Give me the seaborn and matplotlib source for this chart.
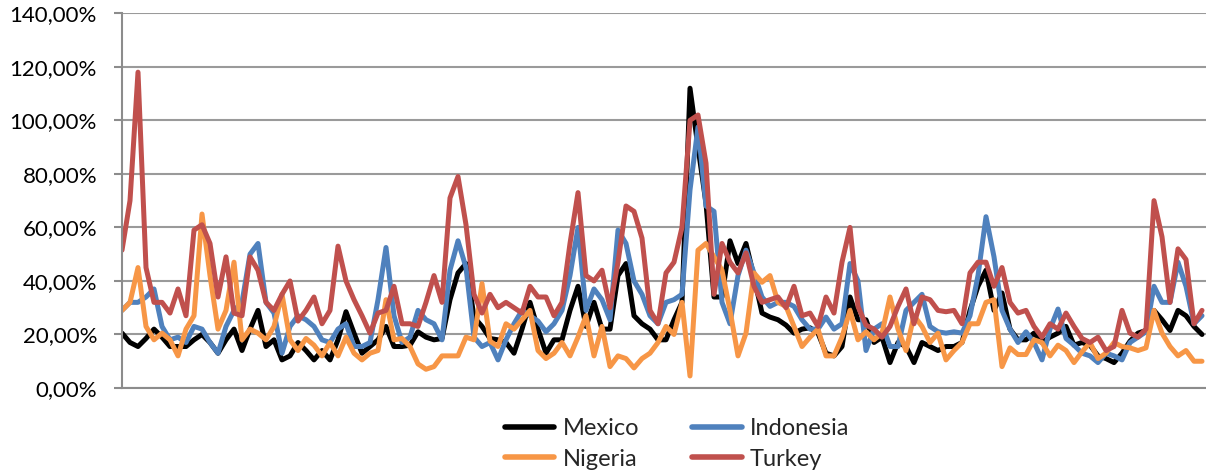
import numpy as np
import pandas as pd
import seaborn as sns
import matplotlib.pyplot as plt
from matplotlib.lines import Line2D
from matplotlib.ticker import FuncFormatter

countries = ["Mexico", "Indonesia", "Nigeria", "Turkey"]
colors = ["#000000", "#4F81BD", "#F79646", "#C0504D"]

mexico = [20.5, 17, 15.5, 18.5, 22, 19, 15.5, 15.5, 15.5, 18, 20, 17, 13, 18, 22, 14, 22, 29, 15.5, 18, 10.5, 12, 17,
          14, 10.5, 14, 10.5, 18, 28.5, 20.5, 13, 15.5, 18, 23, 15.5, 15.5, 16, 21, 19, 18, 18.5, 33, 43, 46.5, 26.5, 23,
          18.5, 18, 17, 13, 22, 32, 22, 13, 18, 18, 29, 38, 23, 32, 22, 22, 42, 46.5, 27, 24, 22, 18,
          18, 25.5, 32, 112, 90, 69, 34, 34, 55, 46.5, 54, 41.5, 28, 26.5, 25.5, 23.5, 20.5, 22, 22.5, 20.5, 13, 12, 15.5,
          34, 25.5, 25.5, 17, 19, 9.5, 17, 15.5, 9.5, 17, 15.5, 14, 15.5, 15.5, 17, 29, 38, 44, 29, 35.5, 22, 18,
          18, 20.5, 17, 19, 20.5, 23, 16, 17, 16, 12, 11, 9.5, 13, 17.5, 20.5, 21.5, 29, 25.5, 21.5, 29, 27, 23, 20]

indonesia = [29, 32, 32, 34, 37, 23, 18, 19, 17, 23, 22, 17, 13, 23, 29, 32, 50, 54, 32, 28, 13, 23, 27,
             25.5, 23, 18, 17, 22, 24, 15.5, 15.5, 17, 33, 52.5, 27, 17, 19, 29, 25.5, 24, 18, 44, 55, 45, 19, 15.5,
             17, 10.5, 18, 24, 29, 27, 25, 21, 24, 29, 42, 60, 29, 37, 33, 25.5, 59, 54, 40, 35, 27, 24,
             32, 33, 35, 74, 97.5, 68, 66, 32, 24, 42, 51.5, 43, 34, 30.5, 32, 32, 30.5, 25.5, 22, 22, 26.5, 22, 24,
             46.5, 40, 14, 22, 24, 15.5, 15.5, 29, 32, 35, 23, 21, 20.5, 21, 20.5, 27, 42, 64, 49, 29, 22, 17,
             21, 17, 10.5, 22, 29.5, 18.5, 16, 13, 12, 9.5, 13, 12, 10.5, 17, 19, 21, 38, 32, 32, 47, 38, 24, 27]

nigeria = [29, 32, 45, 23, 18, 20.5, 18, 12, 22, 27, 65, 42, 22, 29, 47, 18, 22, 20.5, 18, 23, 35, 18, 14,
           18.5, 16, 12, 17, 12, 19, 13, 10.5, 13, 14, 33, 18, 18.5, 15.5, 9, 7, 8, 12, 12, 12, 19, 18, 39,
           17.5, 15.5, 24, 22, 25.5, 29, 14, 11, 13, 17, 12, 19, 27, 12, 23, 8, 12, 11, 7.5, 11, 13, 17,
           23, 20, 32, 4.5, 51.5, 54, 49, 44, 29, 12, 20.5, 43, 39.5, 42, 32, 30.5, 23, 15.5, 19, 22, 12, 12, 19,
           29, 18, 21, 18, 20.5, 34, 22, 14, 27, 23, 17, 20.5, 10.5, 14, 17, 24, 24, 32, 33, 8, 15, 12.5,
           12.5, 18, 17, 12, 16, 14, 9.5, 13.5, 17, 11, 13, 17, 15.5, 15, 14, 15, 29, 20.5, 15.5, 12, 14, 10, 10]

turkey = [51.5, 70, 118, 45, 32, 32, 28, 37, 27, 59, 61, 54, 34, 49, 28, 27, 49, 44, 32, 29, 35, 40, 25,
          29, 34, 24, 29, 53, 40, 33, 27, 20.5, 28, 29, 38, 24, 24, 23, 32, 42, 32, 71, 79, 61, 35, 28,
          35, 30, 32, 30, 28, 38, 34, 34, 27, 32, 54, 73, 42, 40, 44, 30, 47, 68, 66, 56, 29, 24,
          43, 47, 60, 100, 102, 84, 35, 54, 47, 43, 50.5, 38, 32, 33, 34, 30, 38, 27, 28, 23, 34, 28, 47,
          60, 30.5, 23.5, 22, 19, 23, 30.5, 37, 24, 34, 33, 29, 28.5, 29, 24, 43, 47, 47, 38, 45, 32, 28,
          29, 23, 19, 24, 22, 28, 23, 18.5, 17, 19, 14, 15.5, 29, 20.5, 19, 22, 70, 56.5, 32, 52, 48, 24, 29]

y_ticks = [0, 20, 40, 60, 80, 100, 120, 140]

series = {"Mexico": mexico, "Indonesia": indonesia, "Nigeria": nigeria, "Turkey": turkey}
n = min(len(v) for v in series.values())
frames = []
for name, vals in series.items():
    frames.append(pd.DataFrame({"t": np.arange(n), "value": np.asarray(vals[:n], dtype=float), "country": name}))
df = pd.concat(frames, ignore_index=True)

sns.set_theme(style="white")
plt.rcParams['font.family'] = ['Lato', 'DejaVu Sans']
plt.rcParams['lines.solid_joinstyle'] = 'round'

W, H = 1206, 472
fig = plt.figure(figsize=(W / 100, H / 100), dpi=100)
ax = fig.add_axes([122 / W, 1 - 388 / H, 1 - 122 / W, (388 - 13.3) / H])

sns.lineplot(data=df, x="t", y="value", hue="country", hue_order=countries,
             palette=dict(zip(countries, colors)), linewidth=3.6, estimator=None,
             legend=False, ax=ax)
for ln in ax.get_lines():
    ln.set_solid_joinstyle('round')
    ln.set_solid_capstyle('round')

ax.set_xlim(0, (1206 - 122) / 8)
ax.set_ylim(0, 140)
ax.set_yticks(y_ticks)
ax.yaxis.set_major_formatter(FuncFormatter(lambda v, p: f"{v:.2f}%".replace('.', ',')))
ax.set_xticks([])
ax.set_xlabel("")
ax.set_ylabel("")
ax.set_axisbelow(True)
ax.yaxis.grid(True, color="#9a9a9a", linewidth=1.5)
ax.xaxis.grid(False)
for s in ["top", "right"]:
    ax.spines[s].set_visible(False)
for s in ["left", "bottom"]:
    ax.spines[s].set_color("#8c8c8c")
    ax.spines[s].set_linewidth(1.5)
ax.tick_params(axis="y", direction="out", length=6, width=1.5, color="#8c8c8c",
               labelsize=16, labelcolor="black", pad=12, left=True)

order = [0, 2, 1, 3]
handles = [Line2D([0], [0], color=colors[i], lw=4) for i in order]
labels = [countries[i] for i in order]
fig.legend(handles, labels, ncol=2, loc="center", bbox_to_anchor=(677 / W, 1 - 444 / H),
           frameon=False, fontsize=17, handlelength=2.1, handletextpad=0.35,
           columnspacing=2.25, labelspacing=0.4, borderpad=0)

fig.savefig("out.png", dpi=100)
